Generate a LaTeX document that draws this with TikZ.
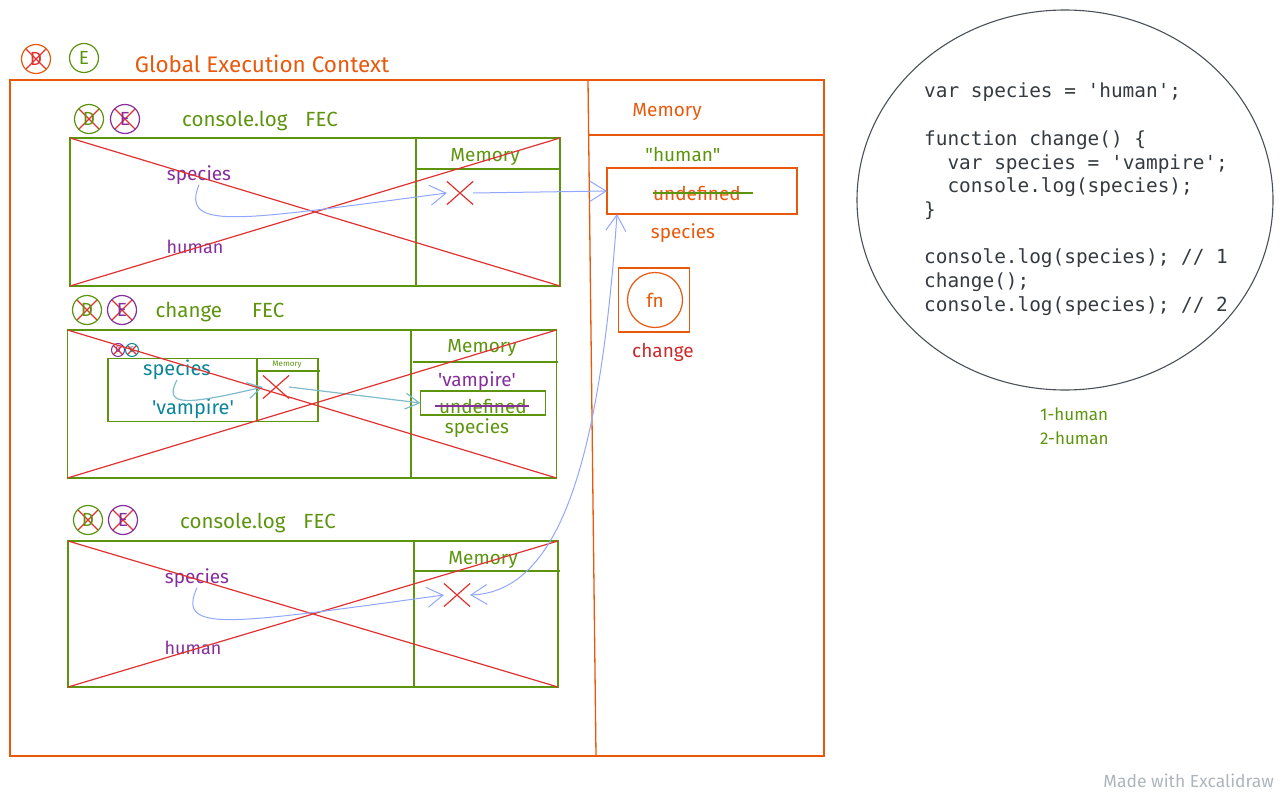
\documentclass[tikz,border=0pt]{standalone}
\usepackage{fontspec}
\setmainfont{Fira Sans}
\setmonofont{DejaVu Sans Mono}
\usetikzlibrary{arrows.meta,positioning,shapes.geometric,shapes.misc}
\definecolor{gecorange}{HTML}{E8590C}
\definecolor{fecgreen}{HTML}{5C940D}
\definecolor{varpurple}{HTML}{862E9C}
\definecolor{crossred}{HTML}{E03131}
\definecolor{changered}{HTML}{C92A2A}
\definecolor{linkblue}{HTML}{91A7FF}
\definecolor{tealtext}{HTML}{0C8599}
\definecolor{teallink}{HTML}{7FBCCB}
\definecolor{codegray}{HTML}{343A40}
\definecolor{ringgray}{HTML}{495057}
\definecolor{markgray}{HTML}{ADB5BD}
\newcommand{\sglq}{\textquotesingle}
\tikzset{
  gecbox/.style={draw=gecorange, line width=1.3pt, inner sep=0pt, outer sep=0pt},
  fecbox/.style={draw=fecgreen, line width=1.3pt, inner sep=0pt, outer sep=0pt},
  ctxring/.style={circle, draw, line width=1.2pt, minimum size=29pt, inner sep=0pt, font=\fontsize{19}{19}\selectfont},
  miniring/.style={circle, draw, line width=1pt, minimum size=13pt, inner sep=0pt, font=\fontsize{8}{8}\selectfont},
  crossed/.style={path picture={\draw[crossred, line width=1.2pt]
      (path picture bounding box.north west) -- (path picture bounding box.south east)
      (path picture bounding box.north east) -- (path picture bounding box.south west);}},
  heading/.style={inner sep=0pt, font=\fontsize{20.5}{24}\selectfont, text=fecgreen},
  word/.style={inner sep=0pt, font=\fontsize{19}{22}\selectfont},
  nope/.style={cross out, draw=crossred, line width=1.2pt, minimum width=25pt, minimum height=22pt, inner sep=0pt},
  wipe/.style={draw=crossred, line width=1.2pt},
  strike/.style={line width=1.4pt},
  link/.style={-{Straight Barb[length=16pt,width=20pt]}, draw=linkblue, line width=1pt},
  twoway/.style={{Straight Barb[length=16pt,width=20pt]}-{Straight Barb[length=16pt,width=20pt]}, draw=linkblue, line width=1pt},
  tlink/.style={-{Straight Barb[length=14pt,width=16pt]}, draw=teallink, line width=1.2pt},
  codetext/.style={inner sep=0pt, align=left, text=codegray, font=\ttfamily\fontsize{19.4}{23.7}\selectfont}
}
\begin{document}
\begin{tikzpicture}[x=1pt,y=-1pt]
\useasboundingbox (0,0) rectangle (1283,792);
% global execution context
\node[ctxring, draw=gecorange, text=crossred, crossed] (gd) at (36,59) {D};
\node[ctxring, draw=fecgreen, text=fecgreen] (ge) at (84,58) {E};
\node[word, text=gecorange, font=\fontsize{22.5}{26}\selectfont] (gtitle) at (262,64) {Global Execution Context};
\node[gecbox, minimum width=814pt, minimum height=676pt] (gec) at (417,418) {};
\draw[gecorange, line width=1.3pt] (588,80) -- (596,756);
\draw[gecorange, line width=1.3pt] (588,135) -- (824,135);
\node[word, text=gecorange] (gmem) at (667,112) {Memory};
\node[word, text=fecgreen] (ghuman) at (683,155) {\textquotedbl human\textquotedbl};
\node[gecbox, minimum width=190pt, minimum height=46pt] (speciesslot) at (702,191) {};
\node[word, text=gecorange] (gundef) at (697,193) {undefined};
\draw[fecgreen, strike] (gundef.west) -- ([xshift=12pt]gundef.east);
\node[word, text=gecorange] (gspecies) at (683,233) {species};
\node[gecbox, minimum width=71pt, minimum height=64pt] (fnslot) at (654,300) {};
\node[circle, draw=gecorange, line width=1.2pt, minimum size=55pt, inner sep=0pt, text=gecorange, font=\fontsize{19}{22}\selectfont] (fn) at (655,300) {fn};
\node[word, text=changered] (gchange) at (663,352) {change};
\coordinate (slotfoot) at ([xshift=10pt]speciesslot.south west);
% console.log FEC (first)
\node[ctxring, draw=fecgreen, text=fecgreen, crossed] (c1d) at (89,119) {D};
\node[ctxring, draw=varpurple, text=varpurple, crossed] (c1e) at (125,119) {E};
\node[heading] (c1title) at (260,121) {console.log\hspace{18pt}FEC};
\node[fecbox, minimum width=490pt, minimum height=148pt] (fec1) at (315,212) {};
\draw[fecgreen, line width=1.3pt] (416,138) -- (416,286);
\draw[fecgreen, line width=1.3pt] (416,169) -- (561,169);
\node[word, text=fecgreen] (m1) at (485,157) {Memory};
\node[word, text=varpurple] (sp1) at (199,175) {species};
\node[word, text=varpurple, font=\fontsize{18}{21}\selectfont] (hu1) at (195,247) {human};
\node[nope] (x1) at (460,193) {};
\draw[wipe] (fec1.north west) -- (fec1.south east) (fec1.south west) -- (fec1.north east);
\draw[link] (sp1.south) .. controls (180,232) and (240,220) .. (x1.west);
\draw[link] (x1.east) -- (speciesslot.west);
% change FEC
\node[ctxring, draw=fecgreen, text=fecgreen, crossed] (c2d) at (87,310) {D};
\node[ctxring, draw=varpurple, text=varpurple, crossed] (c2e) at (122,310) {E};
\node[heading] (c2title) at (220,312) {change\hspace{30pt}FEC};
\node[fecbox, minimum width=489pt, minimum height=148pt] (fec2) at (312,404) {};
\draw[fecgreen, line width=1.3pt] (411,330) -- (411,478);
\draw[fecgreen, line width=1.3pt] (413,362) -- (558,362);
\node[word, text=fecgreen] (m2) at (482,348) {Memory};
\node[word, text=varpurple] (va2) at (477,381) {\sglq vampire\sglq};
\node[fecbox, minimum width=125pt, minimum height=24pt] (vslot) at (483,403) {};
\node[word, text=fecgreen] (undef2) at (483,406) {undefined};
\draw[varpurple, strike] ([xshift=-4pt]undef2.west) -- ([xshift=2pt]undef2.east);
\node[word, text=fecgreen] (sp2m) at (477,428) {species};
% inner console.log inside change
\node[miniring, draw=varpurple, text=varpurple, crossed] (c4d) at (118,350) {D};
\node[miniring, draw=tealtext, text=tealtext, crossed] (c4e) at (132,350) {E};
\node[fecbox, minimum width=210pt, minimum height=63pt] (fec4) at (213,390) {};
\draw[fecgreen, line width=1.3pt] (257,358) -- (257,421);
\draw[fecgreen, line width=1.3pt] (257,371) -- (320,371);
\node[word, text=fecgreen, font=\fontsize{8}{9}\selectfont] (m4) at (287,365) {Memory};
\node[word, text=tealtext, font=\fontsize{20}{23}\selectfont] (sp2) at (177,370) {species};
\node[word, text=tealtext, font=\fontsize{20}{23}\selectfont] (va4) at (193,409) {\sglq vampire\sglq};
\node[nope] (x2) at (276,387) {};
\draw[tlink] (sp2.south) .. controls (162,408) and (190,404) .. (x2.west);
\draw[tlink] (x2.east) -- (vslot.west);
\draw[wipe] (fec2.north west) -- (fec2.south east) (fec2.south west) -- (fec2.north east);
% console.log FEC (second)
\node[ctxring, draw=fecgreen, text=fecgreen, crossed] (c3d) at (88,520) {D};
\node[ctxring, draw=varpurple, text=varpurple, crossed] (c3e) at (123,520) {E};
\node[heading] (c3title) at (258,523) {console.log\hspace{18pt}FEC};
\node[fecbox, minimum width=490pt, minimum height=146pt] (fec3) at (313,614) {};
\draw[fecgreen, line width=1.3pt] (414,541) -- (414,687);
\draw[fecgreen, line width=1.3pt] (414,571) -- (560,571);
\node[word, text=fecgreen] (m3) at (483,560) {Memory};
\node[word, text=varpurple] (sp3) at (197,578) {species};
\node[word, text=varpurple, font=\fontsize{18}{21}\selectfont] (hu3) at (193,648) {human};
\node[nope] (x3) at (457,595) {};
\draw[wipe] (fec3.north west) -- (fec3.south east) (fec3.south west) -- (fec3.north east);
\draw[link] (sp3.south) .. controls (176,634) and (230,624) .. (x3.west);
\draw[twoway] (x3.east) .. controls (560,592) and (600,460) .. (slotfoot);
% code
\node[ellipse, draw=ringgray, line width=1.1pt, minimum width=416pt, minimum height=380pt] (codering) at (1065,200) {};
\node[codetext, anchor=north west] (code) at (924,83) {var species = \sglq human\sglq;\\[23.7pt]
function change() \{\\
\ \ var species = \sglq vampire\sglq;\\
\ \ console.log(species);\\
\}\\[23.7pt]
console.log(species); // 1\\
change();\\
console.log(species); // 2};
\node[word, text=fecgreen, font=\fontsize{17}{20}\selectfont, anchor=west] (out1) at (1040,414) {1-human};
\node[word, text=fecgreen, font=\fontsize{17}{20}\selectfont, anchor=west] (out2) at (1040,438) {2-human};
\node[word, text=markgray, anchor=east, font=\fontsize{17.5}{20}\selectfont] (madewith) at (1274,781) {Made with Excalidraw};
\end{tikzpicture}
\end{document}
